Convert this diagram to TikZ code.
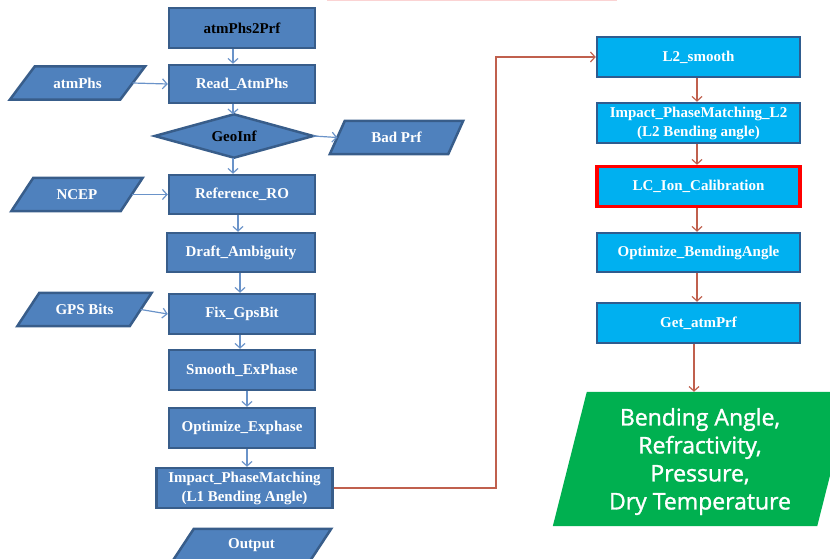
\documentclass[tikz,border=0pt]{standalone}
\usepackage{fontspec}
\setmainfont{Liberation Serif}
\newfontfamily\greenfont[FakeBold=1.3]{Open Sans}
\usetikzlibrary{arrows.meta,backgrounds}
\definecolor{boxblue}{HTML}{4F81BD}
\definecolor{boxedge}{HTML}{385D8A}
\definecolor{cyanbox}{HTML}{00B0F0}
\definecolor{cyanedge}{HTML}{2F5C8F}
\definecolor{arrblue}{HTML}{6A93C9}
\definecolor{arrred}{HTML}{C0604D}
\definecolor{greenbox}{HTML}{00B050}
\definecolor{faintpink}{HTML}{FBD3D3}
\tikzset{
  txt/.style={font=\bfseries\fontsize{15}{19}\selectfont, align=center, inner sep=0pt, text=white},
  lbox/.style={txt, draw=boxedge, fill=boxblue, line width=2.5pt},
  rbox/.style={txt, draw=cyanedge, fill=cyanbox, line width=2.5pt, minimum width=203pt},
  shapefill/.style={draw=boxedge, fill=boxblue, line width=2.5pt, line join=miter},
  barrow/.style={draw=arrblue, line width=1.2pt, -{Straight Barb[length=4.5pt,width=10pt]}},
  rarrow/.style={draw=arrred, line width=1.2pt, -{Straight Barb[length=4.5pt,width=10pt]}},
}
\newcommand{\paragram}[2]{%
  \filldraw[shapefill] ([xshift=#2]#1.north west) -- ([xshift=#2]#1.north east)
    -- ([xshift=-#2]#1.south east) -- ([xshift=-#2]#1.south west) -- cycle;}
\begin{document}
\begin{tikzpicture}[x=1pt,y=-1pt]
\useasboundingbox (0,0) rectangle (830,559);
\draw[faintpink, line width=1.5pt] (327,0.5) -- (617,0.5);

% left column
\node[lbox, text=black, minimum width=146pt, minimum height=40pt] (top) at (242,28) {atmPhs2Prf};
\node[lbox, minimum width=146pt, minimum height=38pt] (read) at (242,84) {Read\_AtmPhs};
\node[txt, text=black, minimum width=158pt, minimum height=43pt] (geo) at (234,136) {GeoInf};
\node[lbox, minimum width=146pt, minimum height=39pt] (ref) at (242,194.5) {Reference\_RO};
\node[lbox, minimum width=148pt, minimum height=39pt] (draft) at (241,252.5) {Draft\_Ambiguity};
\node[lbox, minimum width=146pt, minimum height=40pt] (fix) at (242,314) {Fix\_GpsBit};
\node[lbox, minimum width=146pt, minimum height=40pt] (smooth) at (242,370) {Smooth\_ExPhase};
\node[lbox, minimum width=146pt, minimum height=40pt] (opte) at (242,428) {Optimize\_Exphase};
\node[lbox, minimum width=176pt, minimum height=40pt] (impact) at (244.5,488) {Impact\_PhaseMatching\\(L1 Bending Angle)};

% parallelograms (left)
\node[txt, minimum width=110pt, minimum height=33pt] (atmphs) at (77.5,83) {atmPhs};
\node[txt, minimum width=118pt, minimum height=33pt] (badprf) at (396.5,137.5) {Bad Prf};
\node[txt, minimum width=109pt, minimum height=33pt] (ncep) at (77,194.5) {NCEP};
\node[txt, minimum width=112pt, minimum height=33pt] (gps) at (84.5,309.5) {GPS Bits};
\node[txt, minimum width=137pt, minimum height=33pt] (output) at (251.5,545.5) {Output};

% right column
\node[rbox, minimum height=40pt] (l2s) at (698.5,57) {L2\_smooth};
\node[rbox, minimum height=40pt] (il2) at (698.5,123) {Impact\_PhaseMatching\_L2\\(L2 Bending angle)};
\node[rbox, draw=red, line width=3.5pt, minimum height=40pt] (lc) at (698.5,186.5) {LC\_Ion\_Calibration};
\node[rbox, minimum height=39pt] (optb) at (698.5,252.5) {Optimize\_BemdingAngle};
\node[rbox, minimum height=40pt] (get) at (698.5,323) {Get\_atmPrf};
\node[font=\greenfont\fontsize{23}{28}\selectfont, text=white, align=center, inner sep=0pt,
      minimum width=264pt, minimum height=134pt] (result) at (702,459) {};
\node[font=\greenfont\fontsize{23}{28}\selectfont, text=white, align=center, inner sep=0pt]
      (resulttext) at (700,461.5) {Bending Angle,\\Refractivity,\\Pressure,\\Dry Temperature};

\begin{scope}[on background layer]
  \filldraw[shapefill] (geo.north) -- (geo.east) -- (geo.south) -- (geo.west) -- cycle;
  \paragram{atmphs}{12.5pt}
  \paragram{badprf}{7.5pt}
  \paragram{ncep}{11pt}
  \paragram{gps}{11pt}
  \paragram{output}{11pt}
  \fill[greenbox] ([xshift=17pt]result.north west) -- ([xshift=17pt]result.north east)
    -- ([xshift=-17pt]result.south east) -- ([xshift=-17pt]result.south west) -- cycle;
\end{scope}

% connectors left
\coordinate (xa) at (233,0);
\coordinate (xb) at (238,0);
\coordinate (xc) at (240,0);
\coordinate (xd) at (247,0);
\draw[barrow] (top.south -| xa) -- (read.north -| xa);
\draw[barrow] (read.south -| xa) -- (geo.north -| xa);
\draw[barrow] (geo.south -| xa) -- (ref.north -| xa);
\draw[barrow] (ref.south -| xb) -- (draft.north -| xb);
\draw[barrow] (draft.south -| xc) -- (fix.north -| xc);
\draw[barrow] (fix.south -| xc) -- (smooth.north -| xc);
\draw[barrow] (smooth.south -| xd) -- (opte.north -| xd);
\draw[barrow] (opte.south -| xd) -- (impact.north -| xd);
\draw[barrow] (atmphs.east) -- (read.west);
\draw[barrow] (geo.east) -- (badprf.west);
\draw[barrow] (ncep.east) -- (ref.west);
\draw[barrow] (gps.east) -- (fix.west);

% connectors right
\coordinate (turn) at (496,0);
\coordinate (xr) at (697,0);
\coordinate (xs) at (694,0);
\draw[rarrow] (impact.east) -- (impact.east -| turn) |- (l2s.west);
\draw[rarrow] (l2s.south -| xr) -- (il2.north -| xr);
\draw[rarrow] (il2.south -| xr) -- (lc.north -| xr);
\draw[rarrow] (lc.south -| xr) -- (optb.north -| xr);
\draw[rarrow] (optb.south -| xr) -- (get.north -| xr);
\draw[rarrow] (get.south -| xs) -- (result.north -| xs);
\end{tikzpicture}
\end{document}
